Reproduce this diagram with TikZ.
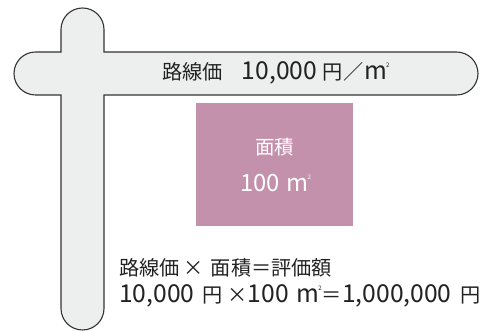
\documentclass[tikz,border=0pt]{standalone}
\usepackage{fontspec}
\setmainfont{Noto Sans CJK JP}
\newfontfamily\lat{Noto Sans CJK JP}[Scale=1.22]
\newcommand\sqm{{\lat m}\kern-1.2pt\raisebox{12pt}{\fontsize{6.2}{6.2}\selectfont 2}}
\newcommand\gap[1]{\hspace{#1pt}}
\definecolor{roadfill}{HTML}{EDEEEE}
\definecolor{roadline}{HTML}{333333}
\definecolor{lotpink}{HTML}{C491AC}
\definecolor{txt}{HTML}{222222}
\begin{document}
\begin{tikzpicture}[x=1pt,y=1pt,
  lbl/.style={font=\fontsize{20.2}{24}\selectfont, text=txt, inner sep=0pt},
  lotlbl/.style={font=\fontsize{19.5}{22}\selectfont, text=white, inner sep=0pt}]
\useasboundingbox (0,0) rectangle (496,331);
% road outline (union of two stadiums)
\draw[fill=roadfill, draw=roadline, line width=1.1pt]
  (61,279) -- (61,301.5) arc (180:0:21.5) -- (104,279) -- (456.5,279)
  arc (90:-90:21.5) -- (104,236) -- (104,22.5) arc (0:-180:21.5)
  -- (61,236) -- (35.5,236) arc (270:90:21.5) -- cycle;
% lot
\fill[lotpink] (196,105) rectangle (353,228);
\node[lotlbl] (lotname) at (274.5,183.5) {面積};
\node[lotlbl] (lotarea) at (275.5,147.5) {{\lat 100}\gap{7}\sqm};
% road price
\node[lbl, anchor=west] (price) at (162,258) {路線価\gap{19}{\lat 10,000}\gap{5}円\gap{1}／\gap{1}\sqm};
% formula
\node[lbl, anchor=west] (f1) at (119,63) {路線価\gap{4}×\gap{7}面積＝評価額};
\node[lbl, anchor=west] (f2) at (119,35) {{\lat 10,000}\gap{8}円\gap{5}×{\lat 100}\gap{8}\sqm＝{\lat 1,000,000}\gap{9}円};
\end{tikzpicture}
\end{document}
